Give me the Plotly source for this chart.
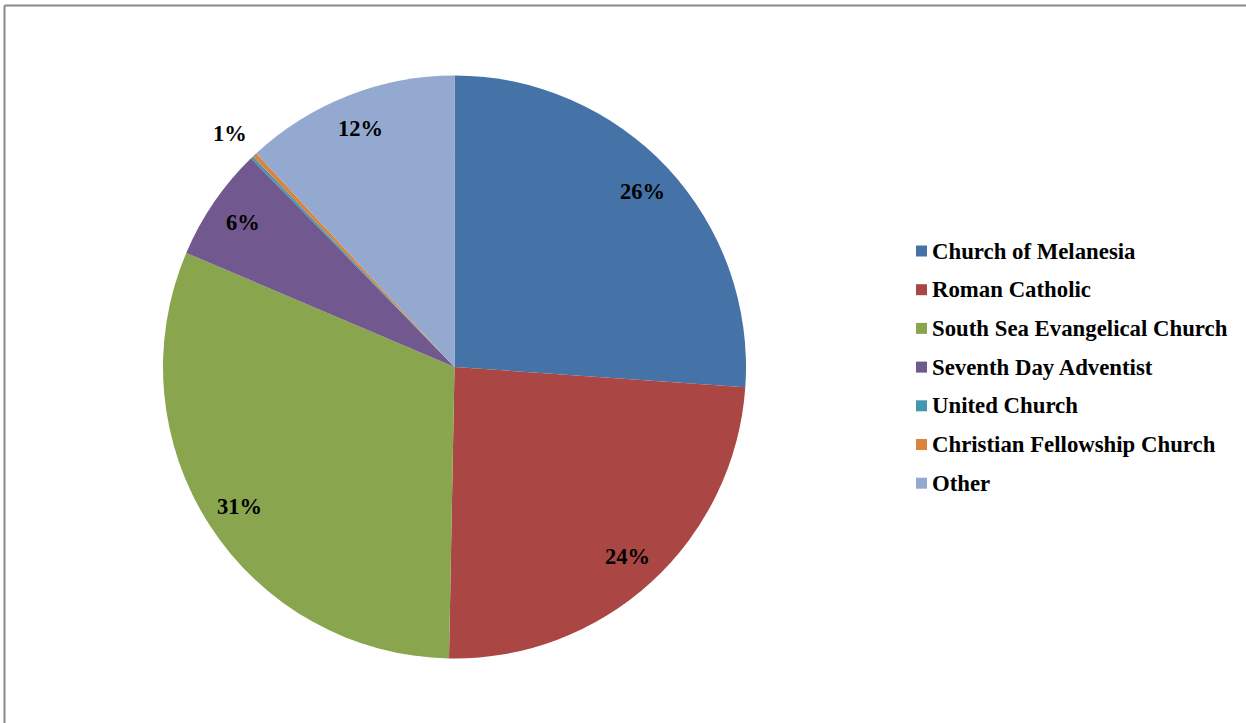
import math

import plotly.graph_objects as go

# slice data
churches = [
    "Church of Melanesia",
    "Roman Catholic",
    "South Sea Evangelical Church",
    "Seventh Day Adventist",
    "United Church",
    "Christian Fellowship Church",
    "Other",
]
shares = [26.1, 24.2, 31.1, 6.3, 0.15, 0.25, 11.9]
shown_labels = ["26%", "24%", "31%", "6%", "", "1%", "12%"]
colors = ["#4572A7", "#AA4643", "#89A54E", "#71588F", "#4198AF", "#DB843D", "#93A9CF"]

W, H = 1246, 723
CX, CY, R = 454.5, 367.0, 291.5
FONT = "Liberation Serif, Times New Roman, serif"

fig = go.Figure(
    go.Pie(
        labels=churches,
        values=shares,
        sort=False,
        direction="clockwise",
        rotation=0,
        textinfo="none",
        marker=dict(colors=colors, line=dict(width=0)),
        domain=dict(x=[(CX - R) / W, (CX + R) / W], y=[1 - (CY + R) / H, 1 - (CY - R) / H]),
        showlegend=False,
        hovertemplate="%{label}: %{percent}<extra></extra>",
    )
)

# data labels along each slice bisector (inside for big slices, outside for thin ones)
total = sum(shares)
acc = 0.0
for val, txt in zip(shares, shown_labels):
    mid = (acc + val / 2) / total * 2 * math.pi
    acc += val
    if not txt:
        continue
    inside = val > 2
    k = 0.88 if inside else 1.03
    px = CX + k * R * math.sin(mid)
    py = CY - k * R * math.cos(mid)
    fig.add_annotation(
        x=px / W, y=1 - py / H, xref="paper", yref="paper",
        xanchor="center" if inside else "right",
        yanchor="middle" if inside else "bottom",
        text=f"<b>{txt}</b>", showarrow=False,
        font=dict(family=FONT, size=22.5, color="black"),
    )

# legend drawn by hand so the row spacing matches
leg_x, leg_y0, leg_step = 916, 251, 38.7
for i, (name, col) in enumerate(zip(churches, colors)):
    yc = leg_y0 + i * leg_step
    fig.add_shape(
        type="rect", xref="paper", yref="paper",
        x0=leg_x / W, x1=(leg_x + 11) / W,
        y0=1 - (yc + 5.5) / H, y1=1 - (yc - 5.5) / H,
        fillcolor=col, line=dict(width=0),
    )
    fig.add_annotation(
        x=(leg_x + 14) / W, y=1 - yc / H, xref="paper", yref="paper",
        xanchor="left", yanchor="middle", text=f"<b>{name}</b>", showarrow=False,
        font=dict(family=FONT, size=22.8, color="black"),
    )

# chart frame: only top and left edges are visible
fig.add_shape(type="line", xref="paper", yref="paper", x0=4.5 / W, x1=1, y0=1 - 5.5 / H, y1=1 - 5.5 / H,
              line=dict(color="#898989", width=2))
fig.add_shape(type="line", xref="paper", yref="paper", x0=4.5 / W, x1=4.5 / W, y0=0, y1=1 - 5.5 / H,
              line=dict(color="#898989", width=2))

fig.update_layout(
    width=W,
    height=H,
    margin=dict(l=0, r=0, t=0, b=0),
    paper_bgcolor="white",
    plot_bgcolor="white",
)

# drop the page's default body margin so the figure sits at the window corner
fig.write_html(
    "out.html",
    config={"displayModeBar": False},
    post_script="document.body.style.margin = '0';",
)
